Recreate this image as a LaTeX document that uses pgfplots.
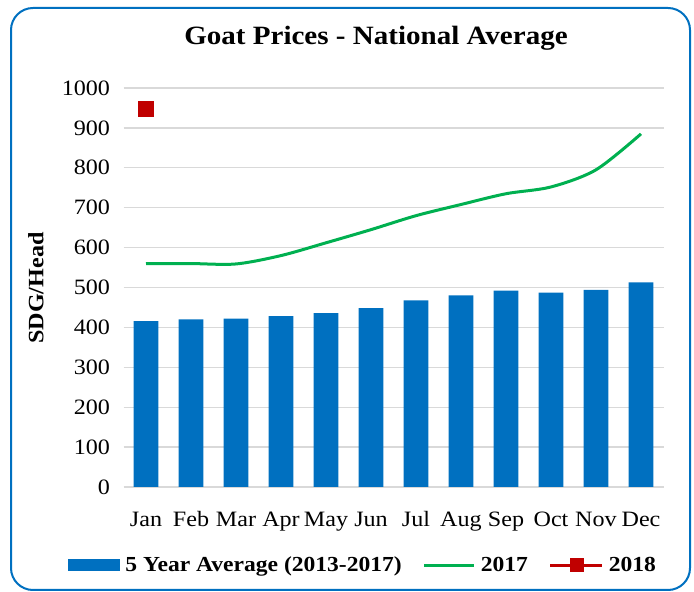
\documentclass[border=0pt]{standalone}
\usepackage{pgfplots}
\pgfplotsset{compat=1.18}
\usepackage{fontspec}
\setmainfont{Liberation Serif}[FakeStretch=1.1]
\definecolor{cblue}{HTML}{0070C0}
\definecolor{cgreen}{HTML}{00B050}
\definecolor{cred}{HTML}{C00000}
\definecolor{cgrid}{HTML}{D9D9D9}
\begin{document}
\begin{tikzpicture}
\path[use as bounding box] (0bp,0bp) rectangle (694bp,592bp);
\draw[cblue, line width=2bp, rounded corners=22bp] (11bp,2bp) rectangle (690bp,584bp);
\node[anchor=base, font=\bfseries\fontsize{26.5}{26.5}\selectfont] at (376bp,547bp) {Goat Prices - National Average};
\node[rotate=90, font=\bfseries\fontsize{22}{22}\selectfont] at (36bp,304bp) {SDG/Head};
\begin{axis}[
  at={(123.5bp,105bp)}, anchor=south west,
  scale only axis, width=540bp, height=399bp,
  xmin=-0.5, xmax=11.5, ymin=0, ymax=1000,
  ytick={0,100,...,1000},
  xtick={0,...,11},
  xticklabels={Jan,Feb,Mar,Apr,May,Jun,Jul,Aug,Sep,Oct,Nov,Dec},
  /pgf/number format/assume math mode=true,
  /pgf/number format/1000 sep={},
  ticklabel style={font=\fontsize{22}{22}\selectfont},
  yticklabel style={xshift=-10bp},
  xticklabel style={anchor=base, yshift=-39bp},
  major tick length=0pt,
  axis line style={draw=none},
  ymajorgrids, grid style={draw=cgrid, line width=1.3bp},
  legend columns=3,
  legend style={draw=none, fill=none, at={(0.444,-0.1955)}, anchor=center,
    font=\bfseries\fontsize{21.5}{21.5}\selectfont,
    /tikz/every even column/.append style={column sep=19bp},
    /tikz/every odd column/.append style={column sep=3bp},
    inner sep=0pt},
  legend cell align=left,
]
\addplot[ybar, bar width=0.55, fill=cblue, draw=none,
  legend image code/.code={\fill[cblue] (0bp,-6bp) rectangle (52bp,6bp);}]
  coordinates {(0,416) (1,420) (2,422) (3,428) (4,436) (5,448) (6,468) (7,480) (8,492) (9,487) (10,494) (11,513)};
\addlegendentry{5 Year Average (2013-2017)}
\addplot[cgreen, line width=3bp, smooth, mark=none,
  legend image code/.code={\draw[cgreen, line width=3bp] (0bp,0bp) -- (50bp,0bp);}]
  coordinates {(0,560) (1,560) (2,559) (3,580) (4,612) (5,645) (6,680) (7,708) (8,735) (9,752) (10,795) (11,885)};
\addlegendentry{2017}
\addplot[cred, line width=3bp, mark=square*, mark size=6.5bp, mark options={fill=cred, draw=none},
  legend image code/.code={\draw[cred, line width=3bp] (0bp,0bp) -- (52bp,0bp); \fill[cred] (21bp,-5.5bp) rectangle (32bp,5.5bp);}]
  coordinates {(0,948)};
\addlegendentry{2018}
\end{axis}
\end{tikzpicture}
\end{document}
